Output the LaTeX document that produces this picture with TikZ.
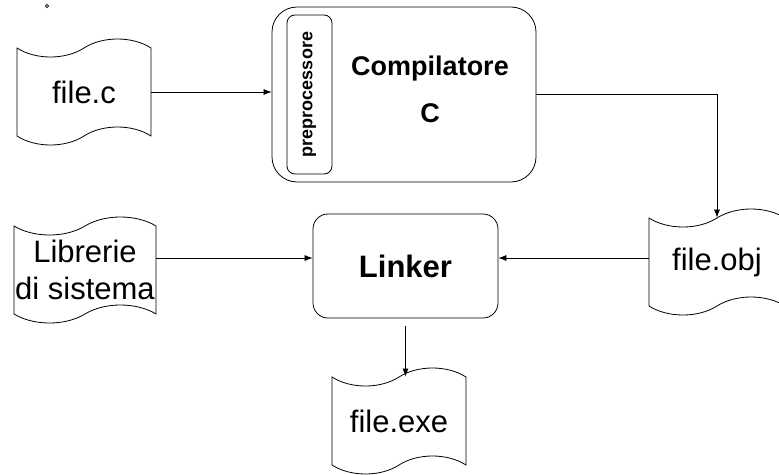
\documentclass[tikz,border=0pt]{standalone}
\usepackage{fontspec}
\setmainfont{Liberation Sans}
\usetikzlibrary{shapes.symbols,arrows.meta}

\begin{document}
\begin{tikzpicture}[x=1pt,y=-1pt,
    doc/.style={tape,draw=black,line width=0.8pt,minimum width=134pt,minimum height=106pt,
        tape bend height=18pt,inner xsep=0pt,align=center,font=\fontsize{31}{37}\selectfont},
    block/.style={draw=black,line width=0.8pt,rounded corners=#1},
    arr/.style={-{Latex[length=8pt,width=6pt]},line width=0.7pt}]
    \useasboundingbox (0,0) rectangle (779,474);
    \node[circle,draw,inner sep=1.2pt,line width=0.7pt] (dot) at (47,6) {};
    \node[doc] (filec) at (84,92) {file.c};
    \node[doc,minimum width=142pt] (lib) at (85,270) {Librerie\\di sistema};
    \node[doc,minimum width=136pt] (obj) at (717,262) {file.obj};
    \node[doc] (exe) at (399,421) {file.exe};
    \node[block=25pt,minimum width=264pt,minimum height=175pt] (comp) at (404,94.5) {};
    \node[block=8pt,minimum width=45pt,minimum height=159pt] (pre) at (309.5,94.5) {};
    \node[rotate=90,font=\bfseries\fontsize{18}{18}\selectfont] (pretext) at (pre) {preprocessore};
    \node[anchor=base,font=\bfseries\fontsize{27}{27}\selectfont] (comptext) at (430,75) {Compilatore};
    \node[anchor=base,font=\bfseries\fontsize{27}{27}\selectfont] (ctext) at (430,122) {C};
    \node[block=15pt,minimum width=185pt,minimum height=104pt,font=\bfseries\fontsize{31}{31}\selectfont] (link) at (405.5,266) {Linker};
    \coordinate (lvl) at (405,258);
    \draw[arr] (filec.east) -- (filec.east -| comp.west);
    \draw[arr] (comp.east) -| (obj.north);
    \draw[arr] (lib.east |- lvl) -- (link.west |- lvl);
    \draw[arr] (obj.west |- lvl) -- (link.east |- lvl);
    \draw[arr] ([yshift=-8pt]link.south) -- (link.south |- exe.north);
\end{tikzpicture}
\end{document}
